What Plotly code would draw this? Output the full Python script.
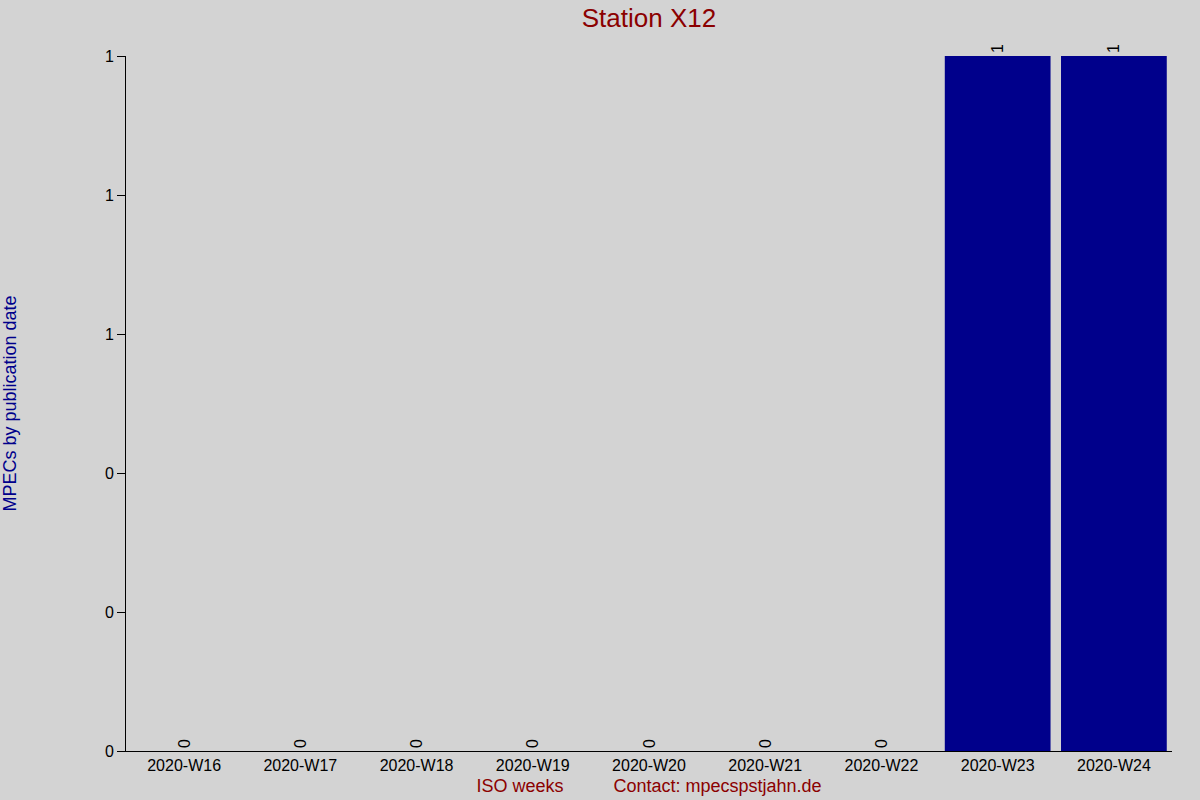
import plotly.graph_objects as go

# weekly MPEC counts
weeks = ['2020-W16', '2020-W17', '2020-W18', '2020-W19', '2020-W20',
         '2020-W21', '2020-W22', '2020-W23', '2020-W24']
counts = [0, 0, 0, 0, 0, 0, 0, 1, 1]

sp = '\u00a0' * 10
data = [go.Bar(x=weeks, y=counts,
               text=[str(c) for c in counts],
               textposition='outside',
               textangle=-90,
               textfont=dict(size=16, color='black'),
               cliponaxis=False,
               marker=dict(color='#00008b', line=dict(width=0)))]

layout = go.Layout(
    width=1200, height=800,
    title=dict(text='Station X12', x=0.5, xref='paper', xanchor='center',
               y=1 - 18 / 800, yanchor='middle',
               font=dict(size=26, color='#8b0000')),
    font=dict(family='Liberation Sans, Arial, sans-serif', size=16, color='black'),
    paper_bgcolor='#d3d3d3', plot_bgcolor='#d3d3d3',
    margin=dict(l=126, r=28, t=56, b=49),
    bargap=0.09,
    showlegend=False,
    xaxis=dict(title=dict(text='ISO weeks' + sp + 'Contact: mpecspstjahn.de',
                          font=dict(size=18, color='#8b0000'), standoff=6),
               automargin=False,
               showline=True, linecolor='black', linewidth=1,
               showgrid=False, ticks='', tickfont=dict(size=16),
               range=[-0.5, 8.5]),
    yaxis=dict(title=dict(text='MPECs by publication date',
                          font=dict(size=18, color='#00008b'), standoff=86),
               automargin=False,
               showline=True, linecolor='black', linewidth=1,
               showgrid=False, zeroline=False, ticks='outside', ticklen=8,
               tickcolor='black', tickformat='d', dtick=0.2, tick0=0,
               range=[0, 1], tickfont=dict(size=16)),
)

fig = go.Figure(data=data, layout=layout)
fig.write_html('out.html', config={'displayModeBar': False},
               post_script="document.body.style.margin='0';")
